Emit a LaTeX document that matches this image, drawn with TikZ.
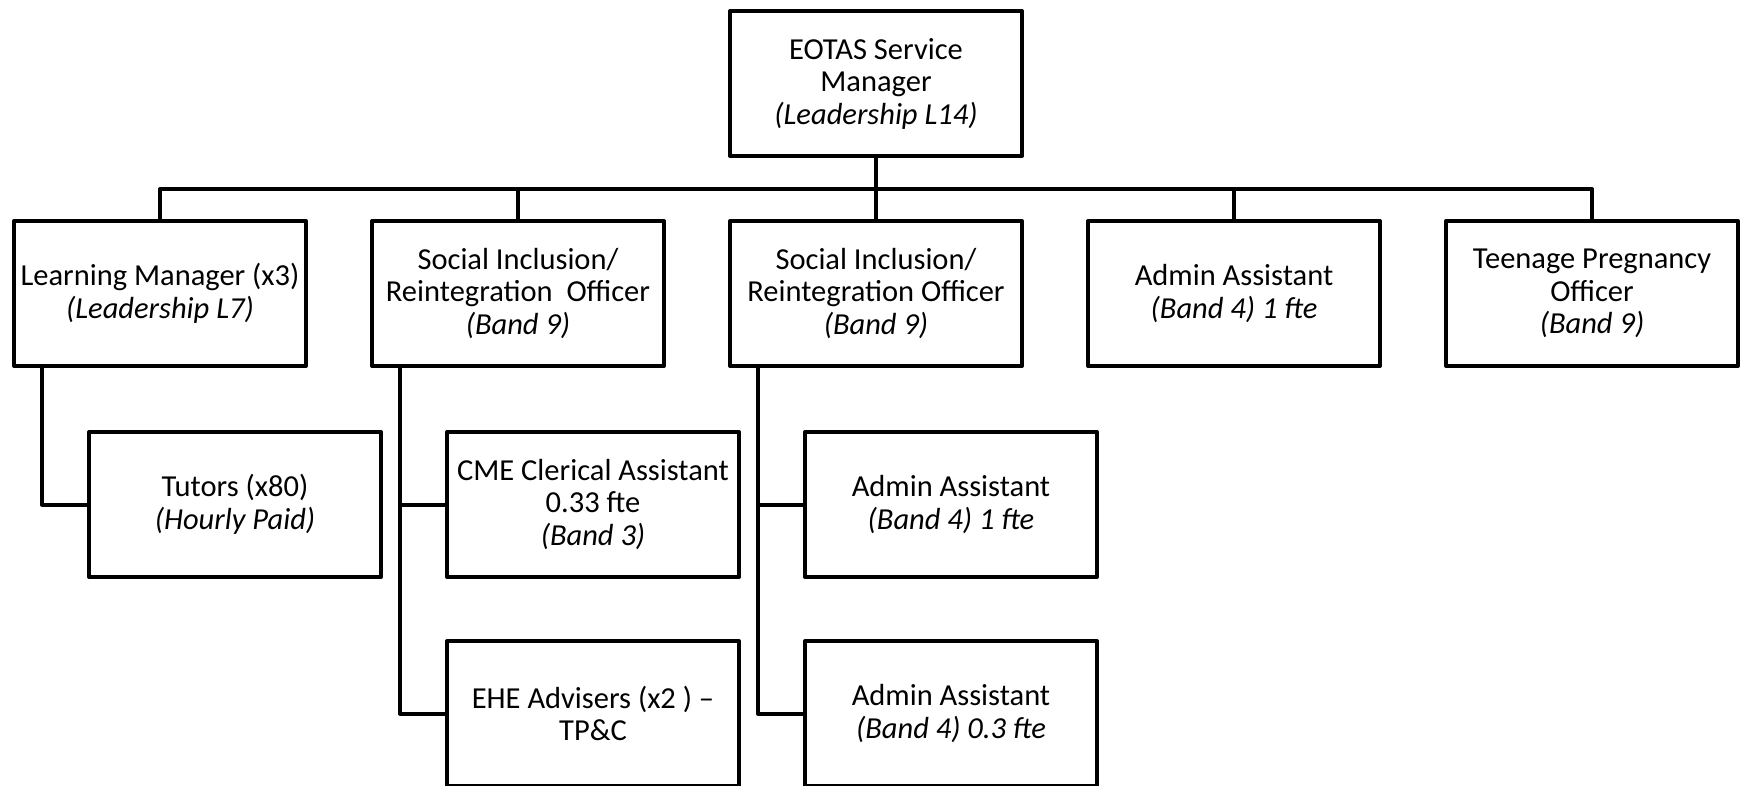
\documentclass[tikz,border=0pt]{standalone}
\usepackage{fontspec}
\setmainfont{Carlito}
\usepackage{tikz}
\usetikzlibrary{calc,positioning}

\begin{document}
\begin{tikzpicture}[x=1pt,y=-1pt,post/.style={draw,line width=4pt,line join=round,minimum width=292pt,minimum height=145pt,inner sep=0pt,align=center,font=\fontsize{30.5}{32.5}\selectfont},link/.style={line width=4pt,line join=round}]
  \clip (0,0) rectangle (1744,786);
  \node[post] (esm) at (876,83.5) {EOTAS Service\\Manager\\\textit{(Leadership L14)}};

  \node[post] (lm) at (160,293.5) {Learning Manager (x3)\\\textit{(Leadership L7)}};
  \node[post] (sia) at (518,293.5) {Social Inclusion/\\Reintegration\ \ Officer\\\textit{(Band 9)}};
  \node[post] (sib) at (876,293.5) {Social Inclusion/\\Reintegration Officer\\\textit{(Band 9)}};
  \node[post] (adm) at (1234,293.5) {Admin Assistant\\\textit{(Band 4) 1 fte}};
  \node[post] (tpo) at (1592,293.5) {Teenage Pregnancy\\Officer\\\textit{(Band 9)}};

  \node[post] (tut) at (235,504.5) {Tutors (x80)\\\textit{(Hourly Paid)}};
  \node[post] (cme) at (593,504.5) {CME Clerical Assistant\\0.33 fte\\\textit{(Band 3)}};
  \node[post] (ehe) at (593,713.5) {EHE Advisers (x2 ) --\\TP\&C};
  \node[post] (ada) at (951,504.5) {Admin Assistant\\\textit{(Band 4) 1 fte}};
  \node[post] (adb) at (951,713.5) {Admin Assistant\\\textit{(Band 4) 0.3 fte}};

  \coordinate (bus) at (876,189);
  \coordinate (lmd) at ([xshift=30pt]lm.south west);
  \coordinate (siad) at ([xshift=30pt]sia.south west);
  \coordinate (sibd) at ([xshift=30pt]sib.south west);

  \draw[link] (esm) -- (bus);
  \draw[link] (bus) -| (lm.north);
  \draw[link] (bus) -| (sia.north);
  \draw[link] (bus) -- (sib.north);
  \draw[link] (bus) -| (adm.north);
  \draw[link] (bus) -| (tpo.north);
  \draw[link] (lmd) |- (tut.west);
  \draw[link] (siad) |- (cme.west);
  \draw[link] (siad) |- (ehe.west);
  \draw[link] (sibd) |- (ada.west);
  \draw[link] (sibd) |- (adb.west);
\end{tikzpicture}
\end{document}
